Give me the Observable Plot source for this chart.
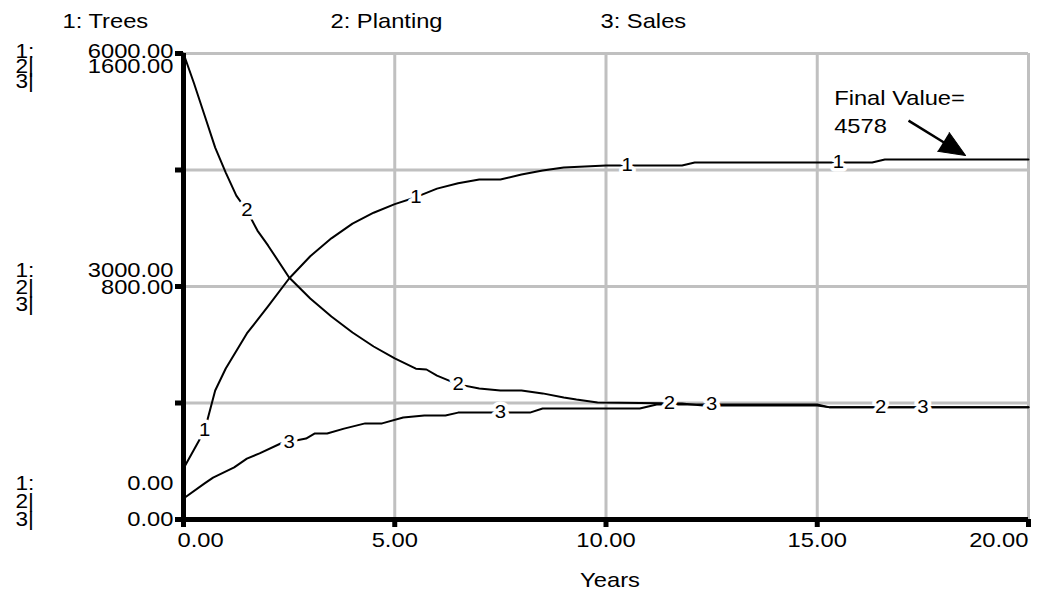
<!DOCTYPE html>
<html><head><meta charset="utf-8">
<script src="https://cdn.jsdelivr.net/npm/d3@7"></script>
<script src="https://cdn.jsdelivr.net/npm/@observablehq/plot@0.6"></script>
<style>body{margin:0;background:#fff} #chart svg{display:block}</style>
</head><body><div id="chart"></div>
<script>
// ---- data ----
const seriesNames = ["1: Trees", "2: Planting", "3: Sales"];
const seriesIds = ["1", "2", "3"];
const scaleMax = [6000, 1600, 1600];

const treesYears = [0, 0.5, 0.75, 1, 1.5, 2, 2.5, 3, 3.5, 4, 4.5, 5, 5.5, 6, 6.5, 7, 7.5, 8, 8.5, 9, 10, 11.8, 12.1, 16.3, 16.6, 20];
const treesValues = [657, 1146, 1661, 1944, 2395, 2743, 3103, 3390, 3620, 3810, 3950, 4060, 4150, 4260, 4330, 4378, 4378, 4442, 4494, 4532, 4558, 4558, 4597, 4597, 4635, 4635];

const plantingYears = [0, 0.25, 0.5, 0.75, 1, 1.25, 1.5, 1.75, 2, 2.5, 3, 3.5, 4, 4.5, 5, 5.5, 5.75, 6, 6.5, 7, 7.5, 8, 8.5, 9, 9.3, 9.8, 11.8, 12.3, 15, 15.3, 20];
const plantingValues = [1600, 1497, 1387, 1277, 1191, 1112, 1061, 992, 941, 831, 759, 697, 642, 594, 553, 518, 515, 494, 464, 450, 443, 443, 433, 419, 412, 402, 398, 391, 391, 385, 385];

const salesYears = [0, 0.5, 0.7, 1.2, 1.5, 1.8, 2.3, 2.9, 3.1, 3.4, 3.8, 4.3, 4.7, 5.2, 5.7, 6.2, 6.5, 8.2, 8.5, 10.8, 11.2, 15, 15.3, 20];
const salesValues = [72, 124, 144, 179, 209, 227, 261, 278, 295, 295, 312, 330, 330, 350, 357, 357, 367, 367, 381, 381, 395, 395, 385, 385];

// years at which the series numbers are written on the curves
const labelYears = [[0.5, 5.5, 10.5, 15.5], [1.5, 6.5, 11.5, 16.5], [2.5, 7.5, 12.5, 17.5]];

const xTicks = [0, 5, 10, 15, 20];
const xTickLabels = ["0.00", "5.00", "10.00", "15.00", "20.00"];
const yTicks = [0, 0.25, 0.5, 0.75, 1];
const yLabelLevels = [1, 0.5, 0];
const yMarkers = ["1:", "2|", "3|"];
const yValueLabels = [["6000.00", "1600.00", ""], ["3000.00", "800.00", ""], ["0.00", "", "0.00"]];
const axisTitle = "Years";
const finalNote = {text: "Final Value=\n4578", year: 15.4, value: 0.931, fromYear: 17.16, fromValue: 0.856, baseYear: 18.0, baseValue: 0.809, tipYear: 18.51, tipValue: 0.781};

// ---- build tables ----
const years = [treesYears, plantingYears, salesYears];
const values = [treesValues, plantingValues, salesValues];
const rows = [];
seriesIds.forEach((id, k) => years[k].forEach((t, i) => rows.push({id, t, v: values[k][i] / scaleMax[k]})));

function interp(ts, vs, t) {
  const i = d3.bisectRight(ts, t);
  if (i <= 0) return vs[0];
  if (i >= ts.length) return vs[vs.length - 1];
  const a = ts[i - 1], b = ts[i];
  return vs[i - 1] + (vs[i] - vs[i - 1]) * (t - a) / (b - a);
}
const curveLabels = [];
seriesIds.forEach((id, k) => labelYears[k].forEach(t => curveLabels.push({id, t, v: interp(years[k], values[k], t) / scaleMax[k]})));

const FONT = "'Liberation Sans', Arial, Helvetica, sans-serif";
const rowOffsets = [[-2, 13, 28], [-16, 1, 18], [-36, -18, 0]];
const yLabelMarks = [];
yLabelLevels.forEach((lvl, g) => {
  [0, 1, 2].forEach(r => {
    yLabelMarks.push(Plot.text([yMarkers[r]], {frameAnchor: "left", y: () => lvl, text: d => d, textAnchor: "start", dx: -168, dy: rowOffsets[g][r], fontSize: 20, lineAnchor: "middle"}));
    if (yValueLabels[g][r]) yLabelMarks.push(Plot.text([yValueLabels[g][r]], {frameAnchor: "left", y: () => lvl, text: d => d, textAnchor: "end", dx: -10, dy: rowOffsets[g][r], fontSize: 21, lineAnchor: "middle"}));
  });
});

const headerOffsets = [-121, 147, 417];
const headerMarks = seriesNames.map((n, k) => Plot.text([n], {frameAnchor: "top-left", text: d => d, textAnchor: "start", dx: headerOffsets[k], dy: -32, fontSize: 21, lineAnchor: "middle"}));

const chart = Plot.plot({
  width: 1038,
  height: 593,
  marginTop: 53,
  marginBottom: 74,
  marginLeft: 183,
  marginRight: 10,
  style: {fontFamily: FONT, fontSize: "21px", background: "white", color: "black"},
  x: {domain: [0, 20], axis: null},
  y: {domain: [0, 1], axis: null},
  marks: [
    Plot.gridX(xTicks, {stroke: "#c0c0c0", strokeOpacity: 1, strokeWidth: 3}),
    Plot.gridY(yTicks, {stroke: "#c0c0c0", strokeOpacity: 1, strokeWidth: 3}),
    Plot.line(rows, {x: "t", y: "v", z: "id", stroke: "black", strokeWidth: 2, curve: "linear"}),
    Plot.text(curveLabels, {x: "t", y: "v", text: "id", fontSize: 18, fill: "black", stroke: "white", strokeWidth: 7, paintOrder: "stroke", lineAnchor: "middle"}),
    Plot.ruleX([0], {y1: 0, y2: 1, stroke: "black", strokeWidth: 5}),
    Plot.ruleY([0], {x1: 0, x2: 20, stroke: "black", strokeWidth: 5}),
    Plot.axisY({ticks: yTicks, tickSize: 8, tickFormat: () => "", strokeWidth: 5}),
    Plot.axisX({ticks: xTicks, tickSize: 8, tickFormat: () => "", strokeWidth: 5}),
    Plot.text([xTickLabels[0]], {x: () => xTicks[0], frameAnchor: "bottom", text: d => d, textAnchor: "start", dx: -6, dy: 21, lineAnchor: "middle"}),
    Plot.text(xTicks.slice(1, -1), {x: d => d, frameAnchor: "bottom", text: (d, i) => xTickLabels[i + 1], textAnchor: "middle", dy: 21, lineAnchor: "middle"}),
    Plot.text([xTickLabels[4]], {x: () => xTicks[4], frameAnchor: "bottom", text: d => d, textAnchor: "end", dy: 21, lineAnchor: "middle"}),
    Plot.text([axisTitle], {x: () => 10, frameAnchor: "bottom", text: d => d, dx: 4, dy: 61, lineAnchor: "middle"}),
    ...yLabelMarks,
    ...headerMarks,
    Plot.text([finalNote], {x: "year", y: "value", text: "text", textAnchor: "start", lineAnchor: "top", lineHeight: 1.33, fontSize: 21}),
    Plot.link([finalNote], {x1: "fromYear", y1: "fromValue", x2: "baseYear", y2: "baseValue", stroke: "black", strokeWidth: 2.5}),
    Plot.vector([finalNote], {x: "tipYear", y: "tipValue", length: 26, rotate: 121.6, anchor: "end", shape: "spike", r: 11, fill: "black", stroke: "black", strokeWidth: 1})
  ]
});
document.getElementById("chart").appendChild(chart);

// widen glyphs horizontally to match the reference's wide sans lettering
const STRETCH = 1.13;
chart.querySelectorAll("text").forEach(el => {
  const bb = el.getBBox();
  const anchor = getComputedStyle(el).textAnchor;
  const ax = anchor === "middle" ? bb.x + bb.width / 2 : anchor === "end" ? bb.x + bb.width : bb.x;
  const old = el.getAttribute("transform") || "";
  el.setAttribute("transform", `${old} translate(${ax},0) scale(${STRETCH},1) translate(${-ax},0)`);
});
</script>
</body></html>
